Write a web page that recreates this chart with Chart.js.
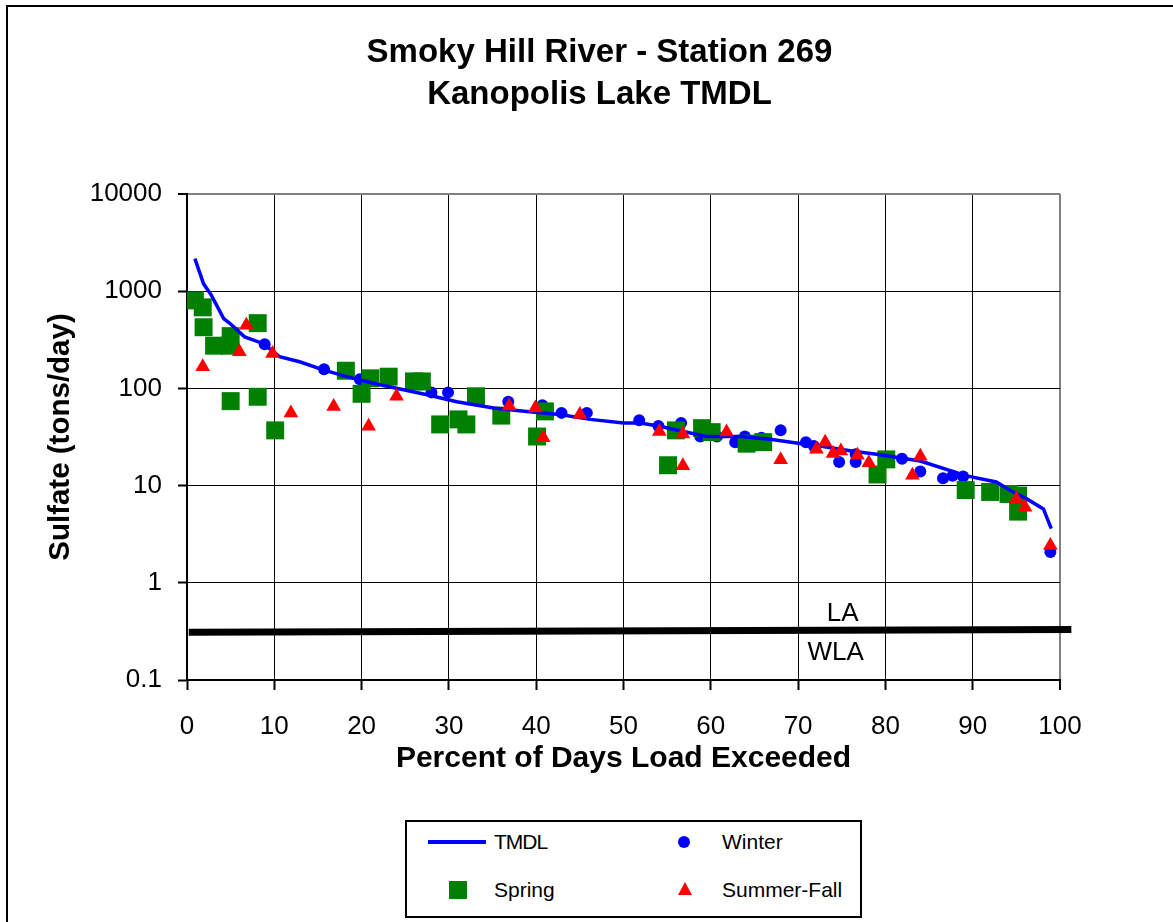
<!DOCTYPE html>
<html>
<head>
<meta charset="utf-8">
<title>Smoky Hill River - Station 269</title>
<script src="https://cdn.jsdelivr.net/npm/chart.js@4.4.1/dist/chart.umd.min.js"></script>
<style>
  html, body { margin: 0; padding: 0; background: #fff; overflow: hidden; }
  #wrap { position: relative; width: 1173px; height: 922px; overflow: hidden; }
  #frame { position: absolute; left: 6px; top: 5px; width: 1200px; height: 960px; border: 2px solid #000; }
  #chart { position: absolute; left: 0; top: 0; }
  #legend { position: absolute; left: 405px; top: 820px; width: 457px; height: 98px; box-sizing: border-box;
            border: 2px solid #000; background: #fff; font-family: "Liberation Sans", Arial, sans-serif; font-size: 21px; color: #000; }
  #legend .txt { position: absolute; line-height: 24px; white-space: nowrap; }
  #legend .line { position: absolute; left: 21px; top: 18px; width: 58px; height: 4px; background: #0000ff; }
  #legend .dot { position: absolute; left: 271px; top: 14px; width: 12px; height: 12px; border-radius: 50%; background: #0000ff; }
  #legend .sq { position: absolute; left: 42px; top: 59px; width: 18px; height: 18px; background: #008000; }
  #legend .tri { position: absolute; left: 271px; top: 60px; width: 0; height: 0; border-left: 7px solid transparent;
                 border-right: 7px solid transparent; border-bottom: 13px solid #ff0000; }
</style>
</head>
<body>
<div id="wrap">
  <div id="frame"></div>
  <canvas id="chart" width="1173" height="922"></canvas>
  <div id="legend">
    <div class="line"></div>
    <div class="txt" style="left:87px; top:8px; letter-spacing:-1px;">TMDL</div>
    <div class="dot"></div>
    <div class="txt" style="left:315px; top:8px;">Winter</div>
    <div class="sq"></div>
    <div class="txt" style="left:87px; top:56px;">Spring</div>
    <div class="tri"></div>
    <div class="txt" style="left:315px; top:56px;">Summer-Fall</div>
  </div>
</div>
<script>
// values (x = percent of days, y = tons/day)

const yTicks = [0.1, 1, 10, 100, 1000, 10000];

const tmdlX = [0.9, 1.9, 2.8, 4.2, 4.9, 6.6, 8.7, 10.6, 12.9, 15.6, 18.3, 19.8, 22.1, 27.5, 30.9, 35.1, 38.9, 42.7, 46.2, 50, 51.9, 54, 55.7, 59.5, 63.3, 66.8, 69.8, 72.5, 76.3, 79, 84, 89.3, 92.7, 94.7, 96.2, 98.1, 99];
const tmdlY = [2160, 1190, 906, 523, 468, 339, 290, 212, 188, 155, 132, 122, 109, 86, 73, 63, 58, 54, 48, 44, 44, 41, 38, 32, 32, 30, 27.5, 25.5, 22.6, 21, 17.9, 12.6, 10.9, 8.5, 7.3, 5.75, 3.6];

const winterX = [8.9, 15.7, 19.8, 28.0, 29.9, 36.8, 40.7, 42.9, 45.8, 51.8, 54.0, 56.6, 58.8, 60.7, 62.8, 63.9, 65.8, 68.0, 70.9, 71.8, 74.7, 76.6, 76.6, 81.9, 84.0, 86.6, 87.7, 88.9, 98.9];
const winterY = [284, 157, 124, 91, 91, 73, 67, 56, 56, 47, 41, 44, 32, 32, 28, 32, 31, 37, 28, 25.5, 17.5, 17.5, 21, 18.9, 14, 11.9, 12.6, 12.4, 2.07];

const springX = [0.9, 1.8, 1.9, 3.1, 4.9, 5.0, 8.1, 5.0, 8.1, 10.1, 18.2, 20.0, 21.0, 23.1, 26.0, 26.9, 29.0, 31.1, 32.0, 33.1, 36.0, 40.1, 41.0, 55.1, 56.0, 59.0, 60.1, 64.1, 66.0, 79.1, 80.1, 89.2, 92.0, 94.1, 95.2, 95.2];
const springY = [805, 682, 426, 275, 275, 345, 469, 74, 82, 37, 152, 88, 127, 132, 118, 118, 42.6, 48, 42.6, 83, 52.5, 32, 58, 16.2, 37, 39, 35.5, 27, 28, 13, 18.6, 9.0, 8.6, 8.2, 7.9, 5.4];

const summerX = [1.8, 6.8, 6.0, 9.8, 11.9, 16.8, 20.8, 24.0, 36.9, 39.9, 40.8, 45.0, 54.1, 56.8, 56.8, 61.8, 68.0, 72.1, 73.1, 74.0, 74.9, 76.8, 78.1, 83.1, 84.0, 95.0, 96.0, 98.9];
const summerY = [167, 447, 238, 229, 56, 65, 40.7, 83, 66, 63, 31, 54, 36, 34, 16, 35.5, 18.4, 23.6, 28, 21.4, 22.7, 20.5, 17.2, 12.8, 20, 7.3, 6.0, 2.42];

// LA / WLA split line
const laX = [0.2, 101.3];
const laY = [0.31, 0.33];

const FONT = '"Liberation Sans", Arial, sans-serif';

function pts(xs, ys) {
  return xs.map((x, i) => ({ x: x, y: ys[i] }));
}

// LA and WLA labels sit on both sides of the black line
const allocationLabels = {
  id: 'allocationLabels',
  afterDatasetsDraw(chart) {
    const c = chart.ctx;
    const xs = chart.scales.x, ys = chart.scales.y;
    c.save();
    c.font = '26px ' + FONT;
    c.fillStyle = '#000';
    c.textAlign = 'center';
    c.textBaseline = 'middle';
    c.fillText('LA', xs.getPixelForValue(75.1), ys.getPixelForValue(0.48));
    c.fillText('WLA', xs.getPixelForValue(74.3), ys.getPixelForValue(0.19));
    c.restore();
  }
};

function gridColor(edge) {
  return c => (c.tick && c.tick.value === edge ? '#808080' : '#000');
}
function gridWidth(edge) {
  return c => (c.tick && c.tick.value === edge ? 2 : 1);
}

new Chart(document.getElementById('chart').getContext('2d'), {
  type: 'scatter',
  data: {
    datasets: [
      {
        label: 'Summer-Fall', order: 0,
        data: pts(summerX, summerY),
        pointStyle: 'triangle', pointRadius: 8.5, pointBorderWidth: 0,
        pointBackgroundColor: '#ff0000', borderColor: '#ff0000'
      },
      {
        label: 'TMDL', type: 'line', order: 1,
        data: pts(tmdlX, tmdlY),
        borderColor: '#0000ff', borderWidth: 3.5, pointRadius: 0, tension: 0, fill: false
      },
      {
        label: 'Spring', order: 2,
        data: pts(springX, springY),
        pointStyle: 'rect', pointRadius: 12.7, pointBorderWidth: 0,
        pointBackgroundColor: '#008000', borderColor: '#008000'
      },
      {
        label: 'Winter', order: 3,
        data: pts(winterX, winterY),
        pointStyle: 'circle', pointRadius: 6, pointBorderWidth: 0,
        pointBackgroundColor: '#0000ff', borderColor: '#0000ff'
      },
      {
        label: 'LA/WLA', type: 'line', order: 4,
        data: pts(laX, laY),
        borderColor: '#000', borderWidth: 7, pointRadius: 0, clip: false
      }
    ]
  },
  options: {
    responsive: false,
    animation: false,
    devicePixelRatio: 1,
    layout: { padding: { left: 26, right: 0, top: 0, bottom: 140 } },
    plugins: {
      legend: { display: false },
      tooltip: { enabled: false },
      title: {
        display: true,
        text: ['Smoky Hill River - Station 269', 'Kanopolis Lake TMDL'],
        color: '#000',
        font: { family: FONT, size: 33, weight: 'bold', lineHeight: 42 / 33 },
        padding: { top: 32, bottom: 78 }
      }
    },
    scales: {
      x: {
        type: 'linear', min: 0, max: 100,
        afterFit: s => { s.height = 102; },
        ticks: { stepSize: 10, color: '#000', font: { family: FONT, size: 26 }, padding: 21, maxRotation: 0 },
        grid: { color: gridColor(100), lineWidth: gridWidth(100), tickColor: '#000', tickWidth: 2, tickLength: 10 },
        border: { color: '#000', width: 2 },
        title: {
          display: true, text: 'Percent of Days Load Exceeded', color: '#000',
          font: { family: FONT, size: 30, weight: 'bold' }, padding: { top: 0, bottom: 5 }
        }
      },
      y: {
        type: 'logarithmic', min: 0.1, max: 10000,
        afterFit: s => { s.width = 161; },
        afterBuildTicks: s => { s.ticks = yTicks.map(v => ({ value: v })); },
        ticks: { color: '#000', font: { family: FONT, size: 26 }, padding: 16, callback: v => String(v) },
        grid: { color: gridColor(10000), lineWidth: gridWidth(10000), tickColor: '#000', tickWidth: 2, tickLength: 9 },
        border: { color: '#000', width: 2 },
        title: {
          display: true, text: 'Sulfate (tons/day)', color: '#000',
          font: { family: FONT, size: 29.5, weight: 'bold' }, padding: { top: 17, bottom: 0 }
        }
      },
      // empty right-hand margin, so the title centres over the original frame
      margin: {
        type: 'linear', position: 'right', display: true,
        afterFit: s => { s.width = 113; },
        ticks: { display: false },
        grid: { display: false, drawTicks: false },
        border: { display: false }
      }
    }
  },
  plugins: [allocationLabels]
});
</script>
</body>
</html>
